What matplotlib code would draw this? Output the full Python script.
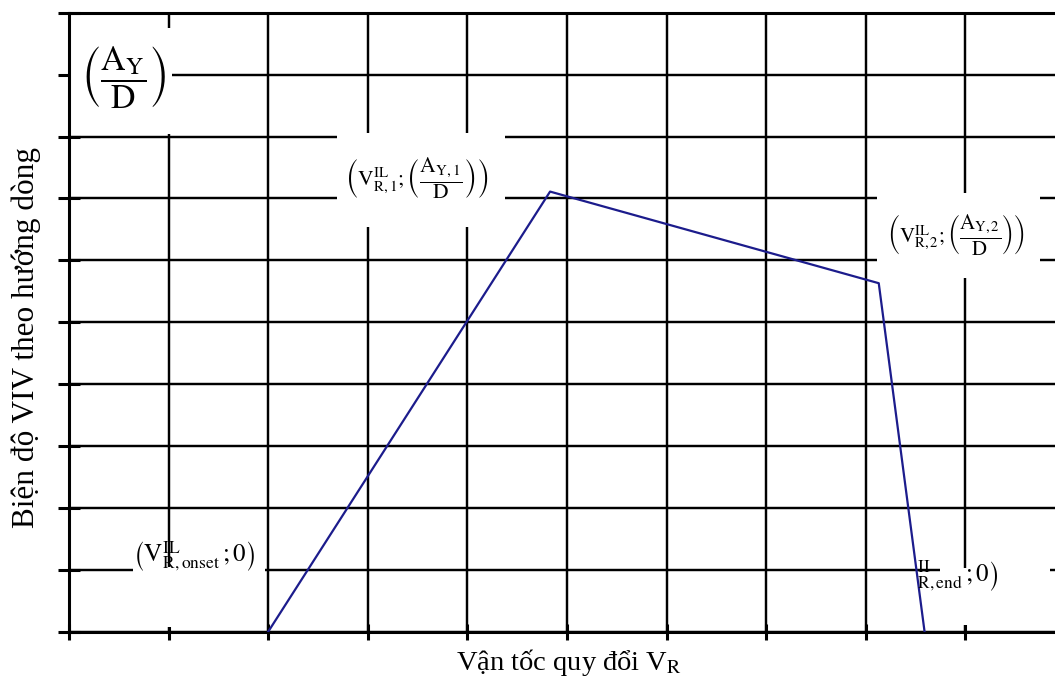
import numpy as np
import matplotlib
matplotlib.use("Agg")
import matplotlib.pyplot as plt
from matplotlib.patches import Rectangle

plt.rcParams['font.family'] = ['Liberation Serif', 'DejaVu Serif']
plt.rcParams['mathtext.fontset'] = 'stix'

# response curve: onset -> peak 1 -> point 2 -> end
vr = [2.0, 4.83, 8.13, 8.59]
amp = [0.0, 7.11, 5.63, 0.0]

xgrid = np.arange(0, 10)
ygrid = np.arange(0, 11)

xlabel = "Vận tốc quy đổi V$_{\\mathrm{R}}$"
ylabel = "Biện độ VIV theo hướng dòng"

W, H = 1055, 679
fig = plt.figure(figsize=(W / 100, H / 100), dpi=100)

# axes box in pixels
x0, x1 = 69, 1055
y0, y1 = 631.7, 12.7
ax = fig.add_axes([x0 / W, 1 - y0 / H, (x1 - x0) / W, (y0 - y1) / H])
px_x = 99.6
px_y = (y0 - y1) / 10
ax.set_xlim(0, (x1 - x0) / px_x)
ax.set_ylim(0, 10)

def px2data(px, py):
    return (px - x0) / px_x, (y0 - py) / px_y

ax.set_xticks(xgrid)
ax.set_yticks(ygrid)
ax.set_xticklabels([])
ax.set_yticklabels([])
ax.grid(True, color='black', lw=1.75)
ax.set_axisbelow(True)
ax.tick_params(axis='y', direction='inout', length=16, width=2.2, colors='black')
ax.tick_params(axis='x', direction='inout', length=11, width=2.2, colors='black')
ax.spines['right'].set_visible(False)
for s in ['left', 'bottom', 'top']:
    ax.spines[s].set_linewidth(2.2)

# white label boxes knocking out the grid
boxes = [(70, 28, 172, 134), (337, 133, 505, 227), (877, 193, 1040, 278),
         (133, 567, 265, 627), (940, 568, 1050, 625)]
for bx0, by0, bx1, by1 in boxes:
    dx0, dy0 = px2data(bx0, by1)
    dx1, dy1 = px2data(bx1, by0)
    ax.add_patch(Rectangle((dx0, dy0), dx1 - dx0, dy1 - dy0, facecolor='white',
                           edgecolor='none', zorder=2))

ax.plot(vr, amp, color='#1c1c8c', lw=1.6, zorder=3)

labels = [
    ((124, 78), r"$\left(\dfrac{\mathrm{A}_{\mathrm{Y}}}{\mathrm{D}}\right)$", 24.5),
    ((417, 178), r"$\left(\mathrm{V}^{\mathrm{IL}}_{\mathrm{R,1}};\left(\dfrac{\mathrm{A}_{\mathrm{Y,1}}}{\mathrm{D}}\right)\right)$", 15.5),
    ((956, 235), r"$\left(\mathrm{V}^{\mathrm{IL}}_{\mathrm{R,2}};\left(\dfrac{\mathrm{A}_{\mathrm{Y,2}}}{\mathrm{D}}\right)\right)$", 15),
    ((194, 557), r"$\left(\mathrm{V}^{\mathrm{IL}}_{\mathrm{R,onset}}\,;0\right)$", 18),
    ((958, 576), r"$\left.^{\mathrm{II}}_{\mathrm{R,end}}\,;0\right)$", 18),
]
for (tx, ty), s, fs in labels:
    ax.text(*px2data(tx, ty), s, fontsize=fs, ha='center', va='center', zorder=4)

fig.text(569 / W, 1 - 670.5 / H, xlabel, fontsize=20.5, ha='center', va='baseline')
fig.text(26 / W, 1 - 338 / H, ylabel, fontsize=22.5, rotation=90, ha='center', va='center')

fig.savefig('out.png', dpi=100)
